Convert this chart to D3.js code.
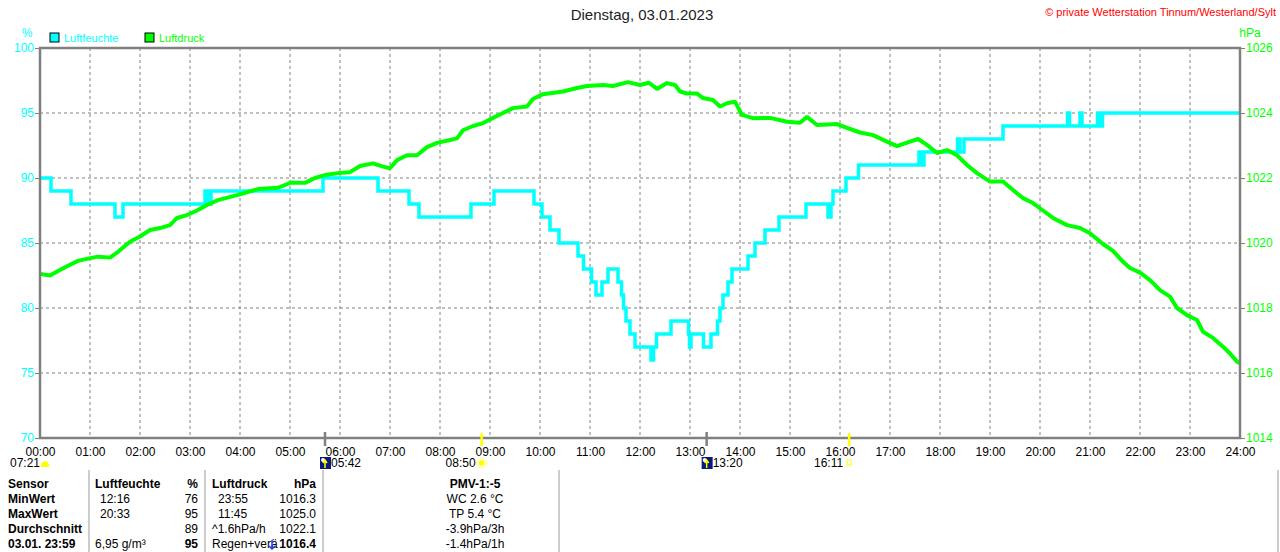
<!DOCTYPE html>
<html>
<head>
<meta charset="utf-8">
<script src="https://cdn.jsdelivr.net/npm/d3@7"></script>
<style>
  body { margin: 0; background: #fff; }
  svg { font-family: "Liberation Sans", Arial, sans-serif; display: block; }
</style>
</head>
<body>
<div id="chart"></div>
<script>
// relative humidity, step values (hour of day, %)
const humTimes = [0, 0.22, 0.62, 1.50, 1.66, 3.30, 3.36, 3.42, 5.66, 6.76, 7.38, 7.58, 8.62, 9.08, 9.88, 10.04,
    10.20, 10.38, 10.76, 10.87, 11.03, 11.12, 11.24, 11.36, 11.56, 11.63, 11.67, 11.72, 11.80, 11.90, 12.22, 12.27,
    12.33, 12.62, 12.97, 12.99, 13.02, 13.27, 13.42, 13.55, 13.60, 13.66, 13.76, 13.84, 14.16, 14.30, 14.50, 14.78,
    15.32, 15.76, 15.82, 15.86, 16.12, 16.37, 17.58, 17.62, 17.68, 18.35, 18.40, 18.48, 19.26, 20.55, 20.59, 20.80,
    20.84, 21.15, 21.20, 21.25, 24.00]
const humValues = [90, 89, 88, 87, 88, 89, 88, 89, 90, 89, 88, 87, 88, 89, 88, 87,
    86, 85, 84, 83, 82, 81, 82, 83, 82, 81, 80, 79, 78, 77, 76, 77,
    78, 79, 78, 77, 78, 77, 78, 79, 80, 81, 82, 83, 84, 85, 86, 87,
    88, 87, 88, 89, 90, 91, 92, 91, 92, 93, 92, 93, 94, 95, 94, 95,
    94, 95, 94, 95, 95]

// air pressure (hour of day, hPa)
const presTimes = [0, 0.20, 0.36, 0.56, 0.76, 0.96, 1.16, 1.40, 1.56, 1.80, 2.00, 2.20, 2.40, 2.60, 2.74, 2.94,
    3.14, 3.34, 3.56, 3.96, 4.36, 4.76, 5.02, 5.30, 5.50, 5.70, 5.96, 6.20, 6.40, 6.66, 6.86, 7.00,
    7.14, 7.34, 7.54, 7.74, 7.94, 8.20, 8.34, 8.46, 8.66, 8.86, 9.06, 9.26, 9.46, 9.74, 9.86, 10.06,
    10.46, 10.74, 10.94, 11.26, 11.46, 11.76, 12.00, 12.18, 12.34, 12.54, 12.70, 12.80, 12.94, 13.14, 13.26, 13.46,
    13.60, 13.74, 13.90, 14.04, 14.26, 14.60, 14.94, 15.20, 15.34, 15.54, 15.94, 16.14, 16.40, 16.66, 16.94, 17.14,
    17.40, 17.56, 17.74, 17.94, 18.14, 18.34, 18.54, 18.74, 19.00, 19.26, 19.46, 19.66, 19.86, 20.06, 20.26, 20.54,
    20.80, 21.00, 21.26, 21.46, 21.66, 21.80, 22.00, 22.20, 22.40, 22.60, 22.74, 22.94, 23.14, 23.26, 23.46, 23.66,
    23.80, 23.94, 24.00]
const presValues = [1019.05, 1019.00, 1019.14, 1019.30, 1019.45, 1019.52, 1019.58, 1019.55, 1019.73, 1020.04, 1020.20, 1020.40, 1020.46, 1020.55, 1020.77, 1020.86,
    1021.00, 1021.17, 1021.32, 1021.48, 1021.66, 1021.70, 1021.86, 1021.85, 1022.00, 1022.09, 1022.15, 1022.18, 1022.37, 1022.45, 1022.35, 1022.30,
    1022.55, 1022.70, 1022.70, 1022.95, 1023.08, 1023.17, 1023.22, 1023.47, 1023.60, 1023.69, 1023.85, 1024.00, 1024.15, 1024.20, 1024.43, 1024.58,
    1024.66, 1024.77, 1024.83, 1024.86, 1024.83, 1024.95, 1024.86, 1024.93, 1024.74, 1024.92, 1024.86, 1024.66, 1024.60, 1024.60, 1024.46, 1024.40,
    1024.20, 1024.30, 1024.35, 1023.94, 1023.84, 1023.85, 1023.73, 1023.70, 1023.88, 1023.63, 1023.66, 1023.54, 1023.40, 1023.32, 1023.12, 1022.98,
    1023.12, 1023.20, 1023.02, 1022.77, 1022.86, 1022.70, 1022.40, 1022.15, 1021.89, 1021.89, 1021.63, 1021.38, 1021.23, 1021.00, 1020.77, 1020.55,
    1020.46, 1020.30, 1019.97, 1019.76, 1019.42, 1019.23, 1019.09, 1018.86, 1018.55, 1018.35, 1018.00, 1017.78, 1017.63, 1017.27, 1017.08, 1016.81,
    1016.60, 1016.35, 1016.30]

const humTicks = [70, 75, 80, 85, 90, 95, 100]
const presTicks = [1014, 1016, 1018, 1020, 1022, 1024, 1026]
const hourTicks = d3.range(0, 25)

// sun / moon rise and set markers (hour, label, kind)
const events = [
    { t: 5.70, label: "05:42", kind: "moon" },
    { t: 8.833, label: "08:50", kind: "sun" },
    { t: 13.333, label: "13:20", kind: "moon" },
    { t: 16.183, label: "16:11", kind: "sunset" }
]

const tableRows = [
    ["Sensor", "Luftfeuchte", "%", "Luftdruck", "hPa", "PMV-1:-5"],
    ["MinWert", "12:16", "76", "23:55", "1016.3", "WC 2.6 °C"],
    ["MaxWert", "20:33", "95", "11:45", "1025.0", "TP 5.4 °C"],
    ["Durchschnitt", "", "89", "^1.6hPa/h", "1022.1", "-3.9hPa/3h"],
    ["03.01. 23:59", "6,95 g/m³", "95", "Regen+verä", "1016.4", "-1.4hPa/1h"]
]

const W = 1280, H = 552
const margin = { top: 48, left: 40, right: 40, bottom: 114 }
const width = W - margin.left - margin.right
const height = H - margin.top - margin.bottom
const cyan = "#00ffff", green = "#00ff00", gridColor = "#808080"

const svg = d3.select("#chart").append("svg")
    .attr("width", W).attr("height", H)

const g = svg.append("g").attr("transform", `translate(${margin.left},${margin.top})`)

const x = d3.scaleLinear().domain([0, 24]).range([0, width])
const yHum = d3.scaleLinear().domain([70, 100]).range([height, 0])
const yPres = d3.scaleLinear().domain([1014, 1026]).range([height, 0])

// dashed grid
g.append("g").selectAll("line")
    .data(hourTicks.slice(1, -1))
    .join("line")
    .attr("x1", d => x(d)).attr("x2", d => x(d))
    .attr("y1", 0).attr("y2", height)
    .attr("stroke", gridColor).attr("stroke-dasharray", "3,3")
g.append("g").selectAll("line")
    .data(humTicks.slice(1, -1))
    .join("line")
    .attr("x1", 0).attr("x2", width)
    .attr("y1", d => yHum(d)).attr("y2", d => yHum(d))
    .attr("stroke", gridColor).attr("stroke-dasharray", "3,3")

// lines
const humData = humTimes.map((t, i) => ({ t: t, v: humValues[i] }))
const presData = presTimes.map((t, i) => ({ t: t, v: presValues[i] }))

g.append("path")
    .datum(humData)
    .attr("fill", "none").attr("stroke", cyan).attr("stroke-width", 3.5)
    .attr("d", d3.line().x(d => x(d.t)).y(d => yHum(d.v)).curve(d3.curveStepAfter))

g.append("path")
    .datum(presData)
    .attr("fill", "none").attr("stroke", green).attr("stroke-width", 4)
    .attr("stroke-linejoin", "bevel")
    .attr("d", d3.line().x(d => x(d.t)).y(d => yPres(d.v)))

// frame
g.append("rect")
    .attr("x", 0).attr("y", 0).attr("width", width).attr("height", height)
    .attr("fill", "none").attr("stroke", gridColor).attr("stroke-width", 2.5)

// axes
const leftAxis = g.append("g")
    .call(d3.axisLeft(yHum).tickValues(humTicks).tickSize(5).tickPadding(1))
leftAxis.select(".domain").remove()
leftAxis.selectAll("line").attr("stroke", gridColor)
leftAxis.selectAll("text").attr("fill", cyan).style("font-size", "12px")

const rightAxis = g.append("g")
    .attr("transform", `translate(${width},0)`)
    .call(d3.axisRight(yPres).tickValues(presTicks).tickSize(5).tickPadding(1).tickFormat(d3.format("d")))
rightAxis.select(".domain").remove()
rightAxis.selectAll("line").attr("stroke", gridColor)
rightAxis.selectAll("text").attr("fill", green).style("font-size", "12px")

const bottomAxis = g.append("g")
    .attr("transform", `translate(0,${height})`)
    .call(d3.axisBottom(x).tickValues(hourTicks).tickSize(0).tickPadding(9)
        .tickFormat(d => d3.format("02d")(d) + ":00"))
bottomAxis.select(".domain").remove()
bottomAxis.selectAll("text").attr("fill", "#000").style("font-size", "12px")

// unit labels
svg.append("text").attr("x", 27).attr("y", 37).attr("text-anchor", "middle")
    .attr("fill", cyan).style("font-size", "12px").text("%")
svg.append("text").attr("x", 1250).attr("y", 37).attr("text-anchor", "middle")
    .attr("fill", green).style("font-size", "12px").text("hPa")

// title + copyright
svg.append("text").attr("x", 642).attr("y", 20).attr("text-anchor", "middle")
    .attr("fill", "#222").style("font-size", "15px").text("Dienstag, 03.01.2023")
svg.append("text").attr("x", 1276).attr("y", 16).attr("text-anchor", "end")
    .attr("fill", "#ff0000").style("font-size", "11px")
    .text("© private Wetterstation Tinnum/Westerland/Sylt")

// legend
const legendItems = [{ name: "Luftfeuchte", color: cyan, x: 50 }, { name: "Luftdruck", color: green, x: 145 }]
const legend = svg.append("g")
legend.selectAll("rect")
    .data(legendItems)
    .join("rect")
    .attr("x", d => d.x).attr("y", 33).attr("width", 9).attr("height", 9)
    .attr("fill", d => d.color).attr("stroke", "#000").attr("stroke-width", 1)
legend.selectAll("text")
    .data(legendItems)
    .join("text")
    .attr("x", d => d.x + 14).attr("y", 42)
    .attr("fill", d => d.color).style("font-size", "11px")
    .text(d => d.name)

// sunrise before the chart start
svg.append("text").attr("x", 10).attr("y", 467).style("font-size", "12px").text("07:21")
svg.append("path")
    .attr("d", "M41,467 L41,464 Q45,458 49,464 L49,467 Z")
    .attr("fill", "#ffff00")

// rise / set markers
events.forEach(e => {
    const ex = margin.left + x(e.t)
    const by = margin.top + height
    const col = e.kind === "moon" ? gridColor : "#ffff00"
    svg.append("line")
        .attr("x1", ex).attr("x2", ex)
        .attr("y1", e.kind === "moon" ? by - 6 : by - 5).attr("y2", by + 8)
        .attr("stroke", col).attr("stroke-width", 2.5)
    if (e.kind === "moon") {
        svg.append("rect").attr("x", ex - 5).attr("y", 457).attr("width", 11).attr("height", 12)
            .attr("fill", "#0a1a7a")
        svg.append("circle").attr("cx", ex - 2).attr("cy", 460).attr("r", 2).attr("fill", "#fff")
        svg.append("path").attr("d", `M${ex},468 L${ex},461 M${ex - 2},463 L${ex},460 L${ex + 2},463`)
            .attr("stroke", "#ffff00").attr("stroke-width", 1.5).attr("fill", "none")
        svg.append("text").attr("x", ex + 6).attr("y", 467).style("font-size", "12px").text(e.label)
    } else if (e.kind === "sun") {
        svg.append("text").attr("x", ex - 6).attr("y", 467).attr("text-anchor", "end")
            .style("font-size", "12px").text(e.label)
        svg.append("circle").attr("cx", ex).attr("cy", 463).attr("r", 3).attr("fill", "#ffff00")
        svg.append("circle").attr("cx", ex).attr("cy", 463).attr("r", 5)
            .attr("fill", "none").attr("stroke", "#ffff00").attr("stroke-width", 1).attr("stroke-dasharray", "1.5,1.5")
    } else {
        svg.append("text").attr("x", ex - 6).attr("y", 467).attr("text-anchor", "end")
            .style("font-size", "12px").text(e.label)
        svg.append("rect").attr("x", ex - 2).attr("y", 460).attr("width", 4).attr("height", 5)
            .attr("fill", "none").attr("stroke", "#ffff00").attr("stroke-width", 1)
    }
})

// stats table
const sepX = [89, 205, 323, 559, 1278]
svg.append("g").selectAll("line")
    .data(sepX)
    .join("line")
    .attr("x1", d => d).attr("x2", d => d)
    .attr("y1", 470).attr("y2", H)
    .attr("stroke", "#999").attr("stroke-width", 1)

const colPos = [
    { x: 8, anchor: "start" },
    { x: 100, anchor: "start" },
    { x: 198, anchor: "end" },
    { x: 218, anchor: "start" },
    { x: 316, anchor: "end" },
    { x: 475, anchor: "middle" }
]
// rows squeezed a little so the last one stays inside the picture
tableRows.forEach((row, r) => {
    row.forEach((cell, c) => {
        let cx = colPos[c].x
        if ((c === 1 || c === 3) && (r === 0 || cell.indexOf(":") < 0)) cx = c === 1 ? 95 : 212
        const bold = c === 0 || r === 0 || (r === 4 && (c === 2 || c === 4))
        svg.append("text")
            .attr("x", cx).attr("y", 488 + r * 15)
            .attr("text-anchor", colPos[c].anchor)
            .style("font-size", "12px")
            .style("font-weight", bold ? "bold" : "normal")
            .attr("fill", "#000")
            .text(cell)
    })
})
// falling-pressure arrow in the last row
svg.append("path").attr("d", "M272,540 L272,549 M269,546 L272,549 L275,546")
    .attr("stroke", "#1a3cff").attr("stroke-width", 1.5).attr("fill", "none")
</script>
</body>
</html>
